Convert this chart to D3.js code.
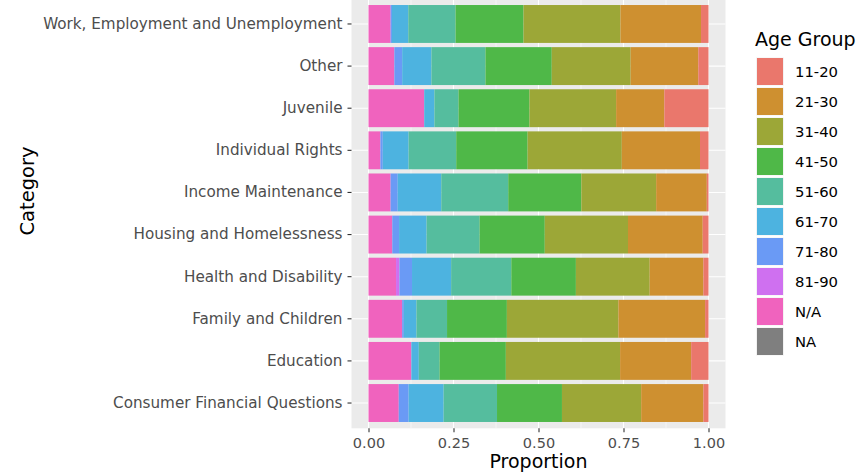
<!DOCTYPE html>
<html><head><meta charset="utf-8">
<script src="https://cdn.jsdelivr.net/npm/d3@7"></script>
<style>body{margin:0;background:#fff;} svg{display:block;font-family:"DejaVu Sans",sans-serif;}</style>
</head><body><svg id="c" width="867" height="475"></svg>
<script>
const categories = ["Work, Employment and Unemployment","Other","Juvenile","Individual Rights","Income Maintenance","Housing and Homelessness","Health and Disability","Family and Children","Education","Consumer Financial Questions"];
const ageGroups = ["11-20","21-30","31-40","41-50","51-60","61-70","71-80","81-90","N/A","NA"];
const ageColors = ["#EA776C","#CE9030","#9CA737","#4FB848","#55BD9E","#4DB3E0","#6A9AF5","#CF70F0","#F063BE","#7F7F7F"];
// proportions, in the category order above
const age_11_20 = [0.022,0.030,0.130,0.025,0.005,0.017,0.015,0.010,0.051,0.015];
const age_21_30 = [0.237,0.199,0.142,0.230,0.149,0.220,0.158,0.255,0.209,0.183];
const age_31_40 = [0.285,0.232,0.255,0.277,0.220,0.245,0.217,0.328,0.336,0.233];
const age_41_50 = [0.200,0.195,0.209,0.210,0.215,0.192,0.190,0.176,0.195,0.191];
const age_51_60 = [0.139,0.159,0.071,0.140,0.197,0.156,0.177,0.090,0.061,0.157];
const age_61_70 = [0.048,0.086,0.030,0.076,0.128,0.081,0.115,0.037,0.022,0.103];
const age_71_80 = [0.004,0.023,0.000,0.007,0.021,0.020,0.037,0.005,0.000,0.029];
const age_81_90 = [0.000,0.000,0.000,0.000,0.000,0.000,0.010,0.000,0.000,0.000];
const age_NA_str = [0.065,0.076,0.164,0.035,0.065,0.070,0.081,0.099,0.126,0.089];
const age_NA = [0,0,0,0,0,0,0,0,0,0];
const xTicks = [0,0.25,0.5,0.75,1];
const xTickLabels = ["0.00","0.25","0.50","0.75","1.00"];

const seriesVals = [age_11_20,age_21_30,age_31_40,age_41_50,age_51_60,age_61_70,age_71_80,age_81_90,age_NA_str,age_NA];
const rows = categories.map((c,i)=>{const r={cat:c}; ageGroups.forEach((g,j)=>r[g]=seriesVals[j][i]); return r;});
// ggplot fill stacking: last level leftmost
const stackKeys = ageGroups.slice().reverse();
const stacked = d3.stack().keys(stackKeys).offset(d3.stackOffsetExpand)(rows);
const color = d3.scaleOrdinal().domain(ageGroups).range(ageColors);

const svg = d3.select("#c");
const P = {l:351.5, r:725.5, t:-1.3, b:428.3};
const x = d3.scaleLinear().domain([-0.05,1.05]).range([P.l,P.r]);
const y = d3.scaleBand().domain(categories).range([P.t,P.b]).paddingInner(0.1).paddingOuter(0.15);

svg.append("rect").attr("x",P.l).attr("y",0).attr("width",P.r-P.l).attr("height",P.b).attr("fill","#EBEBEB");
// minor grid
[0.125,0.375,0.625,0.875].forEach(v=>svg.append("line").attr("x1",x(v)).attr("x2",x(v)).attr("y1",0).attr("y2",P.b).attr("stroke","#fff").attr("stroke-width",0.55));
xTicks.forEach(v=>svg.append("line").attr("x1",x(v)).attr("x2",x(v)).attr("y1",0).attr("y2",P.b).attr("stroke","#fff").attr("stroke-width",1.1));
categories.forEach(c=>svg.append("line").attr("x1",P.l).attr("x2",P.r).attr("y1",y(c)+y.bandwidth()/2).attr("y2",y(c)+y.bandwidth()/2).attr("stroke","#fff").attr("stroke-width",1.1));

const g = svg.append("g");
stacked.forEach(s=>{
  g.selectAll(null).data(s).join("rect")
    .attr("x",d=>x(d[0])).attr("width",d=>Math.max(0,x(d[1])-x(d[0])))
    .attr("y",d=>y(d.data.cat)).attr("height",y.bandwidth())
    .attr("fill",color(s.key));
});

// axes
const xa = svg.append("g").attr("transform",`translate(0,${P.b})`)
  .call(d3.axisBottom(x).tickValues(xTicks).tickFormat((d,i)=>xTickLabels[i]).tickSizeOuter(0).tickSize(4).tickPadding(5.5));
xa.select(".domain").remove();
xa.selectAll("line").attr("stroke","#333").attr("stroke-width",1.1);
xa.selectAll("text").attr("fill","#4D4D4D").style("font-size","14.5px").style("font-family","DejaVu Sans");

const ya = svg.append("g").attr("transform",`translate(${P.l},0)`)
  .call(d3.axisLeft(y).tickSizeOuter(0).tickSize(4).tickPadding(5));
ya.select(".domain").remove();
ya.selectAll("line").attr("stroke","#333").attr("stroke-width",1.1);
ya.selectAll("text").attr("fill","#4D4D4D").style("font-size","15.2px").style("font-family","DejaVu Sans");

svg.append("text").attr("x",(x(0)+x(1))/2).attr("y",468).attr("text-anchor","middle")
  .style("font-size","19px").attr("fill","#000").text("Proportion");
svg.append("text").attr("transform",`translate(34,191) rotate(-90)`).attr("text-anchor","middle")
  .style("font-size","19.5px").attr("fill","#000").text("Category");

// legend
const lg = svg.append("g");
lg.append("text").attr("x",755).attr("y",46).style("font-size","19px").attr("fill","#000").text("Age Group");
ageGroups.forEach((a,i)=>{
  const yy = 57.5 + i*30;
  lg.append("rect").attr("x",756).attr("y",yy).attr("width",28).attr("height",28).attr("fill","#F2F2F2");
  lg.append("rect").attr("x",757).attr("y",yy+0.5).attr("width",26).attr("height",27).attr("fill",color(a));
  lg.append("text").attr("x",795).attr("y",yy+14).attr("dy","0.35em").style("font-size","14.8px").attr("fill","#000").text(a);
});
</script></body></html>
